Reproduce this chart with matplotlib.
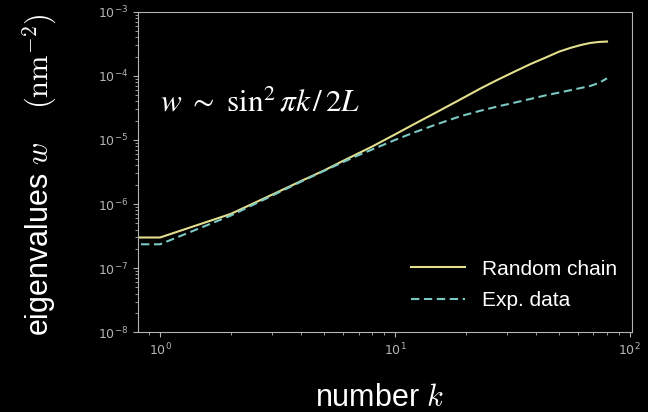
import numpy as np
import matplotlib.pyplot as plt

# mode index k and eigenvalues w (nm^-2)
k_chain = [0.5, 1, 2, 3, 4, 5, 6, 7, 8, 10, 12, 15, 19, 23, 27, 32, 38, 44,
           50, 56, 62, 68, 74, 80]
w_chain = [3.0e-7, 3.0e-7, 7.0e-7, 1.4e-6, 2.3e-6, 3.35e-6, 4.7e-6, 6.2e-6,
           7.9e-6, 1.22e-5, 1.75e-5, 2.7e-5, 4.3e-5, 6.3e-5, 8.5e-5, 1.15e-4,
           1.55e-4, 1.95e-4, 2.4e-4, 2.75e-4, 3.05e-4, 3.28e-4, 3.4e-4, 3.45e-4]

k_exp = [0.5, 1, 2, 3, 4, 5, 6, 7, 8, 10, 12, 15, 19, 23, 27, 32, 38, 44,
         50, 56, 62, 68, 74, 80]
w_exp = [2.35e-7, 2.35e-7, 6.6e-7, 1.35e-6, 2.25e-6, 3.3e-6, 4.5e-6, 5.8e-6,
         7.1e-6, 1.0e-5, 1.3e-5, 1.75e-5, 2.35e-5, 2.85e-5, 3.3e-5, 3.8e-5,
         4.4e-5, 5.0e-5, 5.5e-5, 6.0e-5, 6.5e-5, 7.0e-5, 7.8e-5, 9.2e-5]

YELLOW, TEAL = "#e3df8e", "#7cc8c2"
GREY = "#b4b4b4"

plt.rcParams.update({"mathtext.fontset": "cm"})

fig = plt.figure(figsize=(6.48, 4.12), dpi=100, facecolor="black")
ax = fig.add_axes([0.213, 0.194, 0.762, 0.777], facecolor="black")

ax.plot(k_chain, w_chain, color=YELLOW, lw=1.5, label="Random chain")
ax.plot(k_exp, w_exp, color=TEAL, lw=1.5, ls=(0, (4, 2.2)), label="Exp. data")

ax.set_xscale("log")
ax.set_yscale("log")
ax.set_xlim(0.806, 102)
ax.set_ylim(1e-8, 1e-3)

for s in ax.spines.values():
    s.set_color(GREY)
ax.tick_params(which="both", colors=GREY, labelsize=9)

leg = ax.legend(loc="lower right", bbox_to_anchor=(1.008, 0.01), frameon=False,
                prop={"family": "Liberation Sans", "size": 15},
                handlelength=2.6, handletextpad=0.8, labelspacing=0.6)
for t in leg.get_texts():
    t.set_color("white")

ax.text(0.0445, 0.6875, r"$w\ \sim\ \mathrm{sin}^2\,\pi k\,/\,2L$",
        transform=ax.transAxes, color="white", fontsize=22.5,
        math_fontfamily="stix", va="baseline")

fig.text(0.062, 0.575, r"eigenvalues $w$    $(\mathrm{nm}^{-2})$", rotation=90,
         color="white", fontsize=22, family="Liberation Sans",
         ha="center", va="center")
fig.text(0.586, 0.035, r"number $k$", color="white", fontsize=22,
         family="Liberation Sans", ha="center", va="center")

fig.savefig("out.png", dpi=100, facecolor="black")
